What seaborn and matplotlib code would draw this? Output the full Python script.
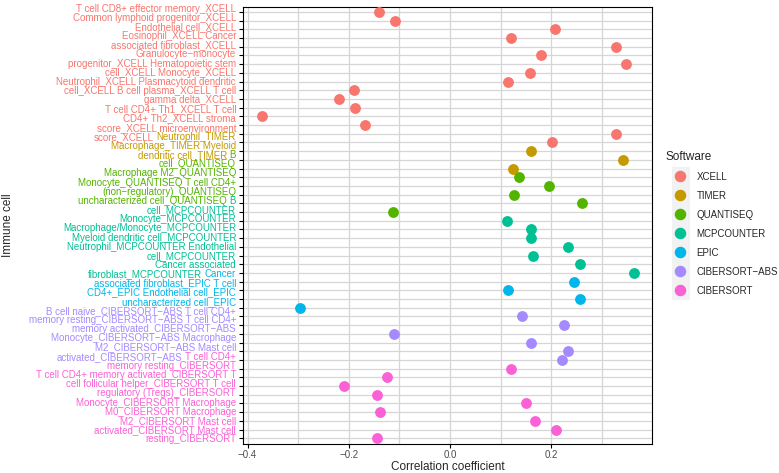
import numpy as np
import pandas as pd
import seaborn as sns
import matplotlib.pyplot as plt
from matplotlib.lines import Line2D
from matplotlib.patches import Rectangle

# software order + ggplot hue colours
software = ["XCELL", "TIMER", "QUANTISEQ", "MCPCOUNTER", "EPIC", "CIBERSORT\u2212ABS", "CIBERSORT"]
colors = ["#F8766D", "#C49A00", "#53B400", "#00C094", "#00B6EB", "#A58AFF", "#FB61D7"]

xcell_cells = ["T cell CD8+ effector memory", "Common lymphoid progenitor", "Endothelial cell",
               "Eosinophil", "Cancer associated fibroblast", "Granulocyte-monocyte progenitor",
               "Hematopoietic stem cell", "Monocyte", "Neutrophil", "Plasmacytoid dendritic cell",
               "B cell plasma", "T cell gamma delta", "T cell CD4+ Th1", "T cell CD4+ Th2",
               "stroma score", "microenvironment score"]
xcell_r = [-0.141, -0.108, 0.207, 0.121, 0.327, 0.179, 0.347, 0.158, 0.115,
           -0.189, -0.220, -0.187, -0.372, -0.167, 0.327, 0.201]

timer_cells = ["Neutrophil", "Macrophage", "Myeloid dendritic cell"]
timer_r = [0.160, 0.342, 0.124]

quantiseq_cells = ["B cell", "Macrophage M2", "Monocyte", "T cell CD4+ (non-regulatory)", "uncharacterized cell"]
quantiseq_r = [0.137, 0.195, 0.126, 0.261, -0.113]

mcp_cells = ["B cell", "Monocyte", "Macrophage/Monocyte", "Myeloid dendritic cell",
             "Neutrophil", "Endothelial cell", "Cancer associated fibroblast"]
mcp_r = [0.112, 0.160, 0.160, 0.233, 0.163, 0.257, 0.363]

epic_cells = ["Cancer associated fibroblast", "T cell CD4+", "Endothelial cell", "uncharacterized cell"]
epic_r = [0.244, 0.114, 0.257, -0.297]

cibabs_cells = ["B cell naive", "T cell CD4+ memory resting", "T cell CD4+ memory activated",
                "Monocyte", "Macrophage M2", "Mast cell activated"]
cibabs_r = [0.143, 0.226, -0.110, 0.160, 0.233, 0.222]

cib_cells = ["T cell CD4+ memory resting", "T cell CD4+ memory activated", "T cell follicular helper",
             "T cell regulatory (Tregs)", "Monocyte", "Macrophage M0", "Macrophage M2",
             "Mast cell activated", "Mast cell resting"]
cib_r = [0.121, -0.124, -0.209, -0.145, 0.150, -0.138, 0.168, 0.209, -0.145]

# wrapped y labels as they appear (text, software, optional trailing part in next software)
label_lines = [
    ("T cell CD8+ effector memory_XCELL", 0, None, None),
    ("Common lymphoid progenitor_XCELL", 0, None, None),
    ("Endothelial cell_XCELL", 0, None, None),
    ("Eosinophil_XCELL Cancer", 0, None, None),
    ("associated fibroblast_XCELL", 0, None, None),
    ("Granulocyte\u2212monocyte", 0, None, None),
    ("progenitor_XCELL Hematopoietic stem", 0, None, None),
    ("cell_XCELL Monocyte_XCELL", 0, None, None),
    ("Neutrophil_XCELL Plasmacytoid dendritic", 0, None, None),
    ("cell_XCELL B cell plasma_XCELL T cell", 0, None, None),
    ("gamma delta_XCELL", 0, None, None),
    ("T cell CD4+ Th1_XCELL T cell", 0, None, None),
    ("CD4+ Th2_XCELL stroma", 0, None, None),
    ("score_XCELL microenvironment", 0, None, None),
    ("score_XCELL", 0, "Neutrophil_TIMER", 1),
    ("Macrophage_TIMER Myeloid", 1, None, None),
    ("dendritic cell_TIMER", 1, "B", 2),
    ("cell_QUANTISEQ", 2, None, None),
    ("Macrophage M2_QUANTISEQ", 2, None, None),
    ("Monocyte_QUANTISEQ T cell CD4+", 2, None, None),
    ("(non\u2212regulatory)_QUANTISEQ", 2, None, None),
    ("uncharacterized cell_QUANTISEQ", 2, "B", 3),
    ("cell_MCPCOUNTER", 3, None, None),
    ("Monocyte_MCPCOUNTER", 3, None, None),
    ("Macrophage/Monocyte_MCPCOUNTER", 3, None, None),
    ("Myeloid dendritic cell_MCPCOUNTER", 3, None, None),
    ("Neutrophil_MCPCOUNTER Endothelial", 3, None, None),
    ("cell_MCPCOUNTER", 3, None, None),
    ("Cancer associated", 3, None, None),
    ("fibroblast_MCPCOUNTER", 3, "Cancer", 4),
    ("associated fibroblast_EPIC T cell", 4, None, None),
    ("CD4+_EPIC Endothelial cell_EPIC", 4, None, None),
    ("uncharacterized cell_EPIC", 4, None, None),
    ("B cell naive_CIBERSORT\u2212ABS T cell CD4+", 5, None, None),
    ("memory resting_CIBERSORT\u2212ABS T cell CD4+", 5, None, None),
    ("memory activated_CIBERSORT\u2212ABS", 5, None, None),
    ("Monocyte_CIBERSORT\u2212ABS Macrophage", 5, None, None),
    ("M2_CIBERSORT\u2212ABS Mast cell", 5, None, None),
    ("activated_CIBERSORT\u2212ABS", 5, "T cell CD4+", 6),
    ("memory resting_CIBERSORT", 6, None, None),
    ("T cell CD4+ memory activated_CIBERSORT T", 6, None, None),
    ("cell follicular helper_CIBERSORT T cell", 6, None, None),
    ("regulatory (Tregs)_CIBERSORT", 6, None, None),
    ("Monocyte_CIBERSORT Macrophage", 6, None, None),
    ("M0_CIBERSORT Macrophage", 6, None, None),
    ("M2_CIBERSORT Mast cell", 6, None, None),
    ("activated_CIBERSORT Mast cell", 6, None, None),
    ("resting_CIBERSORT", 6, None, None),
]

groups = [xcell_cells, timer_cells, quantiseq_cells, mcp_cells, epic_cells, cibabs_cells, cib_cells]
values = [xcell_r, timer_r, quantiseq_r, mcp_r, epic_r, cibabs_r, cib_r]
rows = []
for sw, cells, rs in zip(software, groups, values):
    for c, r in zip(cells, rs):
        rows.append({"cell": c + "_" + sw, "r": r, "software": sw})
df = pd.DataFrame(rows)

sns.set_style("white")
plt.rcParams["font.family"] = ["Liberation Sans", "DejaVu Sans"]

fig = plt.figure(figsize=(7.79, 4.73), dpi=100)
ax = fig.add_axes([243 / 779, 1 - 443.5 / 473, 409 / 779, 436.8 / 473])

sns.stripplot(data=df, x="r", y="cell", hue="software", hue_order=software, palette=colors,
              jitter=False, size=7.8, linewidth=0, ax=ax, legend=False, zorder=3)

n = len(df)
ax.set_ylim(n - 1 + 0.6, -0.6)
ax.set_xlim(-0.409, 0.399)
ax.set_xticks([-0.4, -0.2, 0.0, 0.2])
ax.set_xticks([-0.3, -0.1, 0.1, 0.3], minor=True)
ax.set_yticks(range(n))
ax.set_axisbelow(True)
ax.grid(True, which="major", color="#D6D6D6", lw=0.9)
ax.grid(True, which="minor", axis="x", color="#D6D6D6", lw=0.9)
ax.tick_params(axis="y", labelleft=False, length=3, width=0.8, color="black", left=True)
ax.tick_params(axis="x", which="major", length=3, width=0.8, color="black", bottom=True,
               labelsize=7, labelcolor="#4D4D4D", pad=2)
ax.tick_params(axis="x", which="minor", length=0)
for s in ax.spines.values():
    s.set_color("black")
    s.set_linewidth(0.8)

# wrapped label lines
line_pos = np.linspace(-0.39, 49.11, len(label_lines))
for ypos, (t1, s1, t2, s2) in zip(line_pos, label_lines):
    if t2 is None:
        ax.annotate(t1, xy=(0, ypos), xycoords=("axes fraction", "data"), xytext=(-5, 0),
                    textcoords="offset points", ha="right", va="center", fontsize=7, color=colors[s1])
    else:
        last = ax.annotate(t2, xy=(0, ypos), xycoords=("axes fraction", "data"), xytext=(-5, 0),
                           textcoords="offset points", ha="right", va="center", fontsize=7, color=colors[s2])
        ax.annotate(t1, xy=(0, 0.5), xycoords=last, xytext=(-1.95, 0), textcoords="offset points",
                    ha="right", va="center", fontsize=7, color=colors[s1])

ax.set_xlabel("Correlation coefficient", fontsize=8.5, labelpad=0.5)
ax.set_ylabel("")
fig.text(8 / 779, 1 - 225 / 473, "Immune cell", rotation=90, ha="center", va="center", fontsize=8.5)

# legend
fig.patches.append(Rectangle((672 / 779, 1 - 300 / 473), 18 / 779, 133 / 473,
                             transform=fig.transFigure, facecolor="#F2F2F2", edgecolor="none", zorder=-1))
handles = [Line2D([], [], marker="o", ls="", markersize=7.3, color=c) for c in colors]
leg = ax.legend(handles, software, title="Software", loc="upper left",
                bbox_to_anchor=(662 / 779, 1 - 147 / 473), bbox_transform=fig.transFigure,
                frameon=False, fontsize=7, title_fontsize=8.5, alignment="left",
                labelspacing=0.92, handletextpad=0.15, handlelength=3.0, borderaxespad=0)

fig.savefig("out.png", dpi=100)
